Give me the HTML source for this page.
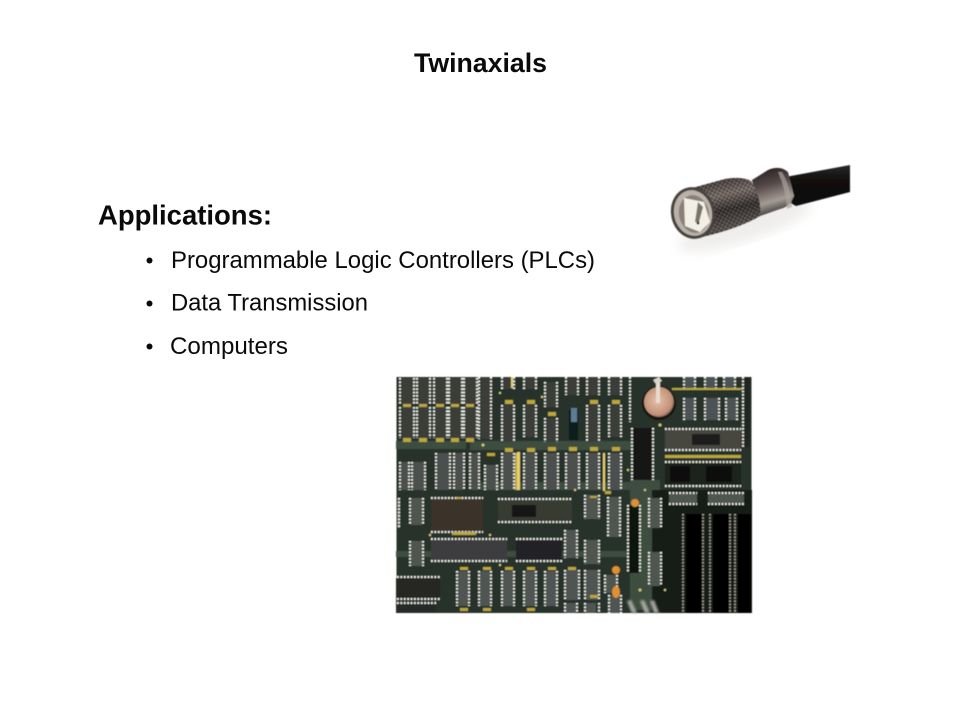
<!DOCTYPE html>
<html><head><meta charset="utf-8"><style>
html,body{margin:0;padding:0;background:#fff}
svg{display:block}
text{font-family:"Liberation Sans",Arial,sans-serif;fill:#0a0a0a}
</style></head><body>
<svg width="960" height="720" viewBox="0 0 960 720" xmlns="http://www.w3.org/2000/svg">
<defs>
<filter id="b"><feGaussianBlur stdDeviation="0.45"/></filter>
<filter id="b2"><feGaussianBlur stdDeviation="1"/></filter>
<filter id="b4"><feGaussianBlur stdDeviation="6"/></filter>
<linearGradient id="cab" x1="0" y1="0" x2="0" y2="1"><stop offset="0" stop-color="#2c2a2a"/><stop offset=".3" stop-color="#141212"/><stop offset="1" stop-color="#0a0a0a"/></linearGradient>
<linearGradient id="met" x1="0.3" y1="0" x2="0.55" y2="1"><stop offset="0" stop-color="#3a3032"/><stop offset=".3" stop-color="#7a706a"/><stop offset=".55" stop-color="#342e2e"/><stop offset=".85" stop-color="#5a5452"/><stop offset="1" stop-color="#201c1c"/></linearGradient>
<linearGradient id="col" x1="0.3" y1="0" x2="0.55" y2="1"><stop offset="0" stop-color="#2a2020"/><stop offset=".35" stop-color="#55494a"/><stop offset=".7" stop-color="#a49c94"/><stop offset="1" stop-color="#2e2828"/></linearGradient>
<pattern id="kn" width="3.400" height="3.400" patternUnits="userSpaceOnUse" patternTransform="rotate(28)"><rect width="1.700" height="1.700" fill="#120e0e" opacity=".5"/><rect x="1.700" y="1.700" width="1.200" height="1.200" fill="#c8c0b8" opacity=".35"/></pattern>
<radialGradient id="bat" cx=".45" cy=".45" r=".6"><stop offset="0" stop-color="#e8c0a8"/><stop offset=".8" stop-color="#c09078"/><stop offset="1" stop-color="#6a5040"/></radialGradient>
</defs>

<text x="480.5" y="72" font-size="26.7" font-weight="700" text-anchor="middle">Twinaxials</text>
<text x="98" y="224.5" font-size="27.5" font-weight="700" textLength="174" lengthAdjust="spacingAndGlyphs">Applications:</text>
<g font-size="23.6">
<circle cx="149.500" cy="260.500" r="3" fill="#0a0a0a"/><text x="171" y="268" textLength="424" lengthAdjust="spacingAndGlyphs">Programmable Logic Controllers (PLCs)</text>
<circle cx="149.500" cy="303.500" r="3" fill="#0a0a0a"/><text x="171" y="310.500" textLength="197" lengthAdjust="spacingAndGlyphs">Data Transmission</text>
<circle cx="149.500" cy="346.500" r="3" fill="#0a0a0a"/><text x="170" y="354" textLength="118" lengthAdjust="spacingAndGlyphs">Computers</text>
</g>

<!-- connector -->
<g>
<ellipse cx="745" cy="225" rx="70" ry="16" fill="#cfccc8" opacity=".35" filter="url(#b4)" transform="rotate(-18 745 225)"/>
<g filter="url(#b)">
<path d="M780 178L850 165V192L796 206L785 200Z" fill="url(#cab)"/>
<path d="M752 180L768 170Q780 165 788 172L794 196Q790 207 780 209L760 216Z" fill="url(#col)"/>
<path d="M782 172Q790 185 792 207L787 209Q786 190 778 172Z" fill="#aaa49e" opacity=".7"/>
<path d="M692 188L725 179Q742 176 751 181Q762 198 760 216Q740 228 702 237Z" fill="url(#met)"/>
<path d="M692 188L725 179Q742 176 751 181Q762 198 760 216Q740 228 702 237Z" fill="url(#kn)"/>
<ellipse cx="693" cy="213" rx="22" ry="26" fill="#4a423e" transform="rotate(-12 693 213)"/>
<ellipse cx="693" cy="213" rx="19" ry="23" fill="#b8b2aa" transform="rotate(-12 693 213)"/>
<ellipse cx="694" cy="214" rx="15" ry="19" fill="#8a8078" transform="rotate(-12 694 214)"/>
<path d="M684 198L704 202L710 222L700 232L685 226Z" fill="#f2efe6"/>
<path d="M698 202L703 207L699 222L695 222Z" fill="#4a3e2e" opacity=".7"/>
<circle cx="698" cy="223" r="1.500" fill="#3a2c18"/>
</g>
</g>

<!-- board -->
<g filter="url(#b)">
<rect x="396.500" y="377" width="355" height="236" fill="#27322a"/>
<!-- lighter green areas -->
<path d="M470 441h170v9H470zM396 441h70v8h-70zM480 482h160v8H480zM396 551h240v6H396zM630 480h30v130h-30z" fill="#3c4e41"/>
<path d="M652 490h100v123H652z" fill="#161a17"/>
<!-- black slots -->
<path d="M686 514h16v99h-16zM713 514h16v99h-16zM738 514h13v99h-13z" fill="#050505"/>
<!-- chip bodies -->
<path d="M402 378h11v26h-11zM418 378h11v26h-11zM435 378h11v26h-11zM450 378h11v26h-11zM465 378h11v26h-11zM402 407h11v31h-11zM418 407h11v31h-11zM435 407h11v31h-11zM450 407h11v31h-11zM465 407h11v31h-11zM481 377h9v62h-9zM503 377h9v12h-9zM503 405h10v37h-10zM525 377h10v12h-10zM525 405h10v32h-10zM546 382h10v25h-10zM546 418h10v24h-10zM567 377h10v18h-10zM588 377h10v18h-10zM588 405h10v37h-10zM610 377h10v18h-10zM610 405h10v32h-10z" fill="#3a3c38"/>
<path d="M401 462h7v28h-7zM413 462h11v28h-11zM437 453h12v37h-12zM455 453h8v37h-8zM471 453h7v37h-7zM486 465h10v25h-10zM503 453h10v37h-10zM525 453h10v37h-10zM546 453h11v37h-11zM567 453h11v37h-11zM588 453h10v37h-10zM610 453h10v37h-10z" fill="#4c504d"/>
<path d="M569 410h9v30h-9z" fill="#111a1c"/><path d="M571 408h6v14h-6z" fill="#5d7d94"/>
<path d="M633 428h19v52h-19z" fill="#121317"/>
<path d="M665 430h76v19h-76z" fill="#464640"/><path d="M692 434h28v11h-28z" fill="#1c1c1a"/>
<path d="M665 463h76v22h-76z" fill="#1e211b"/><path d="M670 466h20v16h-20zM706 466h26v16h-26z" fill="#0b0d0b"/>
<path d="M685 377h9v11h-9zM706 377h9v11h-9zM725 377h9v11h-9zM685 398h9v22h-9zM706 398h12v22h-12zM727 398h9v22h-9z" fill="#4c5254"/>
<path d="M744 377h6v70h-6z" fill="#222624"/>
<!-- mid section -->
<path d="M431 499h52v32h-52z" fill="#3a302a"/><path d="M498 500h74v20h-74z" fill="#383a32"/><path d="M512 505h24v12h-24z" fill="#141514"/>
<path d="M431 540h76v20h-76z" fill="#3c3e40"/><path d="M516 540h46v20h-46z" fill="#222426"/>
<path d="M396 578h44v20h-44z" fill="#262523"/><path d="M396 598h40v15h-40z" fill="#282c2c"/>
<path d="M411 498h11v27h-11zM411 541h11v25h-11zM397 498h3v30h-3zM586 495h12v24h-12zM586 540h12v24h-12zM606 575h10v18h-10zM609 497h10v40h-10zM650 498h10v30h-10zM650 552h10v34h-10zM669 494h28v9h-28zM708 494h36v9h-36z" fill="#50544f"/>
<path d="M458 571h10v35h-10zM480 571h10v35h-10zM503 571h10v35h-10zM525 571h10v35h-10zM546 571h10v35h-10zM566 570h12v30h-12zM586 570h12v30h-12zM610 595h10v18h-10zM566 530h10v28h-10zM566 603h10v10h-10zM586 603h10v10h-10z" fill="#4f5452"/>
<path d="M629 505h10v68h-10z" fill="#111311"/>
<!-- pins -->
<g fill="none" stroke="#f0f0e8" stroke-width="2" stroke-dasharray="1.800 1.600">
<path d="M400 378v26M414 378v26M417 378v26M430 378v26M434 378v26M447 378v26M449 378v26M462 378v26M464 378v26M477 378v26M400 407v31M414 407v31M417 407v31M430 407v31M434 407v31M447 407v31M449 407v31M462 407v31M464 407v31M477 407v31"/>
<path d="M479 377v62M491 377v62M502 377v12M514 377v12M502 405v37M514 405v37M524 377v12M536 377v12M524 405v32M536 405v32M545 382v25M557 382v25M545 418v24M557 418v24M566 377v18M578 377v18M587 377v18M599 377v18M587 405v37M599 405v37M609 377v18M621 377v18M609 405v32M621 405v32M630 377v45M632 428v52M653 428v52"/>
<path d="M400 462v28M409 462v28M412 462v28M425 462v28M436 453v37M450 453v37M454 453v37M464 453v37M470 453v37M479 453v37M485 465v25M497 465v25M502 453v37M514 453v37M524 453v37M536 453v37M545 453v37M558 453v37M566 453v37M579 453v37M587 453v37M599 453v37M609 453v37M621 453v37"/>
<path d="M684 377v11M695 377v11M705 377v11M716 377v11M724 377v11M735 377v11M684 398v22M695 398v22M705 398v22M719 398v22M726 398v22M737 398v22M743 377v70"/>
<path d="M665 429h76M665 450h76M665 462h76M665 486h76M431 498h52M431 532h52M498 499h74M498 522h74M431 539h76M431 561h76M516 539h46M516 561h46M397 577h43M397 599h43M397 603h39M669 493h28M669 504h28M708 493h36M708 504h36"/>
<path d="M410 498v27M423 498v27M399 498v30M410 541v25M423 541v25M585 495v24M599 495v24M585 540v24M599 540v24M608 497v40M620 497v40M649 498v30M661 498v30M649 552v34M661 552v34M605 575v18M617 575v18M628 505v68M640 505v68"/>
<path d="M457 571v35M469 571v35M479 571v35M491 571v35M502 571v35M514 571v35M524 571v35M536 571v35M545 571v35M557 571v35M565 570v30M579 570v30M585 570v30M599 570v30M609 595v18M621 595v18M565 530v28M577 530v28M565 603v10M577 603v10M585 603v10M599 603v10"/>
</g>
<g stroke="#a8a498" stroke-width="1.800" fill="none" stroke-dasharray="1.600 1.600">
<path d="M683 514v99M703 514v99M710 514v99M730 514v99M735 514v99"/>
</g>
<!-- yellow blobs -->
<g fill="#bca63c">
<path d="M403 404h8v3h-8zM419 404h8v3h-8zM436 404h8v3h-8zM451 404h8v3h-8zM466 404h8v3h-8zM403 438h8v4h-8zM419 438h8v4h-8zM436 438h8v4h-8zM451 438h8v4h-8zM466 438h8v4h-8zM505 400h8v4h-8zM527 400h8v4h-8zM548 412h8v4h-8zM590 400h8v4h-8zM612 400h8v4h-8zM505 448h8v4h-8zM527 448h8v4h-8zM548 447h8v4h-8zM569 447h8v4h-8zM590 447h8v4h-8zM612 447h8v4h-8zM487 453h8v3h-8zM515 453h2v37h-2zM456 497h5v2h-5zM672 388h70v2h-70zM665 455h76v3h-76zM452 532h24v3h-24zM590 496h7v2h-7zM460 567h8v3h-8zM483 567h8v3h-8zM505 567h8v3h-8zM527 567h8v3h-8zM548 567h8v3h-8zM568 567h8v3h-8zM460 608h8v3h-8zM483 608h8v3h-8zM527 608h8v3h-8zM590 595h8v3h-8zM605 491h6v3h-6z"/>
</g>
<path d="M517 452h3v38h-3zM511 377h2v11h-2zM603 453h2v38h-2z" fill="#e8d070"/>
<!-- orange parts -->
<g fill="#e09030">
<circle cx="635" cy="503" r="4"/><circle cx="616" cy="570" r="4"/><ellipse cx="616" cy="592" rx="4" ry="6"/>
</g>
<!-- silver resistors -->
<g fill="#a8a8a0" filter="url(#b2)">
<path d="M627 601l4-1 6 13h-5zM640 601l4-1 6 13h-5zM650 601l4-1 5 13h-5z"/>
</g>
<!-- battery -->
<circle cx="659" cy="403" r="17" fill="#15130f"/>
<circle cx="659" cy="402" r="15" fill="url(#bat)"/>
<path d="M656 381h4v22h-4z" fill="#e6dcd0"/>
<path d="M653 380l6-3 3 4-6 3z" fill="#d8d4c8"/>
<!-- yellow dots scatter -->
<g fill="#d0c870">
<circle cx="542" cy="397" r="1.200"/><circle cx="500" cy="393" r="1.200"/><circle cx="628" cy="470" r="1.200"/><circle cx="660" cy="425" r="1.500"/><circle cx="645" cy="490" r="1.200"/><circle cx="483" cy="445" r="1.500"/><circle cx="430" cy="535" r="1.200"/><circle cx="490" cy="535" r="1.200"/><circle cx="500" cy="565" r="1.200"/><circle cx="575" cy="490" r="1.200"/><circle cx="640" cy="590" r="1.500"/><circle cx="665" cy="590" r="1.200"/>
</g>
</g>
</svg>
</body></html>
